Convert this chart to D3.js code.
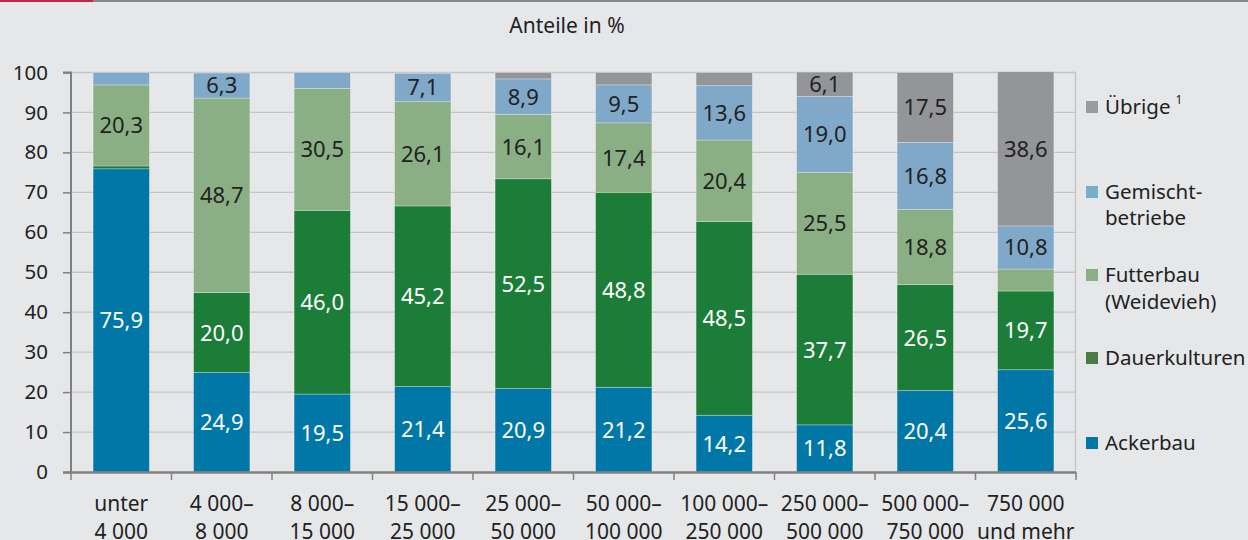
<!DOCTYPE html>
<html><head><meta charset="utf-8">
<script src="https://cdn.jsdelivr.net/npm/d3@7"></script>
<style>
html,body{margin:0;padding:0;background:#e6e7e9;}
svg{display:block;font-family:"Noto Sans","Open Sans",sans-serif;}
</style></head><body>
<svg id="c" width="1248" height="540"></svg>
<script>
const categories = [["unter","4 000"],["4 000–","8 000"],["8 000–","15 000"],["15 000–","25 000"],["25 000–","50 000"],["50 000–","100 000"],["100 000–","250 000"],["250 000–","500 000"],["500 000–","750 000"],["750 000","und mehr"]];
const ackerbau      = [75.9, 24.9, 19.5, 21.4, 20.9, 21.2, 14.2, 11.8, 20.4, 25.6];
const dauerkulturen = [0.7, 20.0, 46.0, 45.2, 52.5, 48.8, 48.5, 37.7, 26.5, 19.7];
const futterbau     = [20.3, 48.7, 30.5, 26.1, 16.1, 17.4, 20.4, 25.5, 18.8, 5.5];
const gemischt      = [3.1, 6.3, 4.0, 7.1, 8.9, 9.5, 13.6, 19.0, 16.8, 10.8];
const uebrige       = [0.0, 0.1, 0.0, 0.2, 1.6, 3.1, 3.3, 6.1, 17.5, 38.6];
const yTicks = [0,10,20,30,40,50,60,70,80,90,100];

const series = [
  {key:"Ackerbau", values:ackerbau, color:"#0077a6", text:"#ffffff", legend:["Ackerbau"]},
  {key:"Dauerkulturen", values:dauerkulturen, color:"#1b7d37", text:"#ffffff", legend:["Dauerkulturen"], legendColor:"#4a7d44"},
  {key:"Futterbau", values:futterbau, color:"#8aaf84", text:"#222222", legend:["Futterbau","(Weidevieh)"]},
  {key:"Gemischt", values:gemischt, color:"#7fa8c9", text:"#222222", legend:["Gemischt-","betriebe"], legendColor:"#78adc6"},
  {key:"Uebrige", values:uebrige, color:"#939598", text:"#222222", legend:["Übrige"], sup:"1", legendColor:"#9a9b9e"}
];

const svg = d3.select("#c");
// top bar
svg.append("rect").attr("x",0).attr("y",0).attr("width",1248).attr("height",2).attr("fill","#888888");
svg.append("rect").attr("x",0).attr("y",0).attr("width",93).attr("height",2).attr("fill","#c0254a");

const x = d3.scaleBand().domain(d3.range(categories.length)).range([71,1076]).paddingInner(0.44).paddingOuter(0.22);
const y = d3.scaleLinear().domain([0,100]).range([472,72.5]);

// title
svg.append("text").attr("x",567).attr("y",33).attr("text-anchor","middle")
  .attr("font-size",21).attr("fill","#222").text("Anteile in %");

// grid
svg.append("g").selectAll("line").data(yTicks.filter(d=>d>0)).join("line")
  .attr("x1",71).attr("x2",1076).attr("y1",d=>y(d)).attr("y2",d=>y(d))
  .attr("stroke","#c3c4c6").attr("stroke-width",1.3);
svg.append("line").attr("x1",1075.5).attr("x2",1075.5).attr("y1",y(100)).attr("y2",y(0))
  .attr("stroke","#c3c4c6").attr("stroke-width",1.3);

// stacked bars
const rows = categories.map((c,i)=>{const o={i}; series.forEach(s=>o[s.key]=s.values[i]); return o;});
const stack = d3.stack().keys(series.map(s=>s.key))(rows);
const gBars = svg.append("g");
stack.forEach((layer,li)=>{
  const s = series[li];
  gBars.append("g").selectAll("rect").data(layer).join("rect")
    .attr("x",d=>x(d.data.i)).attr("width",x.bandwidth())
    .attr("y",d=>y(d[1])).attr("height",d=>Math.max(0,y(d[0])-y(d[1])))
    .attr("fill",s.color).attr("stroke","rgba(255,255,255,0.35)").attr("stroke-width",0.8);
});
stack.forEach((layer,li)=>{
  const s = series[li];
  gBars.append("g").selectAll("text").data(layer.filter(d=>d.data[s.key]>=6)).join("text")
    .attr("x",d=>x(d.data.i)+x.bandwidth()/2)
    .attr("y",d=>y((d[0]+d[1])/2)+8)
    .attr("text-anchor","middle").attr("font-size",22).attr("fill",s.text)
    .text(d=>d3.format(".1f")(d.data[s.key]).replace(".",","));
});

// y axis
const yAxis = d3.axisLeft(y).tickValues(yTicks).tickSize(8).tickPadding(15).tickFormat(d=>d);
const ya = svg.append("g").attr("transform","translate(71,0)").call(yAxis);
ya.select(".domain").attr("stroke","#808080").attr("stroke-width",2).attr("d","M-8,"+y(100)+"H0V"+y(0));
ya.selectAll(".tick line").attr("stroke","#808080").attr("stroke-width",1.5);
ya.selectAll(".tick text").attr("font-size",20.5).attr("fill","#222").attr("font-family","Noto Sans, sans-serif");

// x axis
const xa = svg.append("g");
xa.append("line").attr("x1",63).attr("x2",1076).attr("y1",472.5).attr("y2",472.5).attr("stroke","#808080").attr("stroke-width",2.5);
const edges = d3.range(categories.length+1).map(i=> 71 + i*x.step()*(1) * (1005/(x.step()*categories.length)));
xa.selectAll("line.t").data(edges).join("line").attr("class","t")
  .attr("x1",d=>d).attr("x2",d=>d).attr("y1",472).attr("y2",480).attr("stroke","#808080").attr("stroke-width",1.5);
const xl = xa.selectAll("text.xl").data(categories).join("text").attr("class","xl")
  .attr("text-anchor","middle").attr("font-size",21).attr("fill","#222");
xl.each(function(c,i){
  const t = d3.select(this);
  c.forEach((line,k)=>t.append("tspan").attr("x",x(i)+x.bandwidth()/2).attr("y",511+k*28).text(line));
});

// legend
const legY = {Uebrige:[107], Gemischt:[192,218], Futterbau:[275,302], Dauerkulturen:[358], Ackerbau:[443]};
const lg = svg.append("g");
series.forEach(s=>{
  const ys = legY[s.key];
  lg.append("rect").attr("x",1086).attr("y",ys[0]-6).attr("width",12).attr("height",12).attr("fill",s.legendColor||s.color);
  const t = lg.append("text").attr("font-size",20.5).attr("fill","#222");
  s.legend.forEach((line,k)=>t.append("tspan").attr("x",1105).attr("y",ys[k]+7).text(line));
  if(s.sup){
    const w = t.node().getComputedTextLength();
    lg.append("text").attr("x",1105+w+5).attr("y",ys[0]-3).attr("font-size",12).attr("fill","#222").text(s.sup);
  }
});
</script>
</body></html>
